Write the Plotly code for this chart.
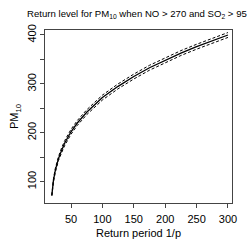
import plotly.graph_objects as go

# Return period (1/p) and return levels
period = [19.5, 22, 25, 30, 35, 40, 50, 60, 75, 100, 125, 150, 175, 200, 225, 250, 275, 300]
level = [72, 102, 123, 147, 164, 179, 202, 220, 242, 272, 295, 315, 333, 348, 363, 376, 388, 400]
lower = [71, 99, 119, 143, 159, 174, 197, 215, 237, 267, 290, 310, 328, 343, 358, 371, 383, 395]
upper = [73, 105, 127, 151, 169, 184, 207, 225, 247, 277, 300, 320, 338, 353, 368, 381, 393, 405]

x_ticks = [50, 100, 150, 200, 250, 300]

fig = go.Figure()
fig.add_trace(go.Scatter(x=period, y=lower, mode="lines",
                         line=dict(color="black", width=1, dash="3px,2px"), showlegend=False))
fig.add_trace(go.Scatter(x=period, y=upper, mode="lines",
                         line=dict(color="black", width=1, dash="3px,2px"), showlegend=False))
fig.add_trace(go.Scatter(x=period, y=level, mode="lines",
                         line=dict(color="black", width=1.3), showlegend=False))

font = "Liberation Sans, Arial, sans-serif"
fig.update_layout(
    width=249, height=249,
    margin=dict(l=45, r=17, t=30, b=46),
    paper_bgcolor="white", plot_bgcolor="white",
    font=dict(family=font, color="black", size=11),
    title=dict(text="Return level for PM<sub>10</sub> when NO > 270 and SO<sub>2</sub> > 95",
               x=0.55, xanchor="center", y=0.945, yanchor="middle",
               font=dict(size=9.6, family=font, color="black")),
    xaxis=dict(range=[8.6, 306.4], tickvals=x_ticks, ticks="outside", ticklen=4,
               tickcolor="#444", linecolor="#444", linewidth=1, mirror=True,
               showgrid=False, zeroline=False, tickfont=dict(size=11), ticklabelstandoff=2,
               title=dict(text="Return period 1/p", font=dict(size=11), standoff=5)),
    yaxis=dict(range=[56.4, 410.2], tick0=0, dtick=100, ticks="outside",
               ticklen=4, tickcolor="#444", linecolor="#444", linewidth=1, mirror=True,
               minor=dict(dtick=50, tick0=0, ticks="outside", ticklen=4, tickcolor="#444", showgrid=False),
               showgrid=False, zeroline=False, tickangle=-90, tickfont=dict(size=11),
               title=dict(text="PM<sub>10</sub>", font=dict(size=11), standoff=4)),
)
fig.write_html("out.html", config={"displayModeBar": False},
               post_script="document.body.style.margin='0';")
